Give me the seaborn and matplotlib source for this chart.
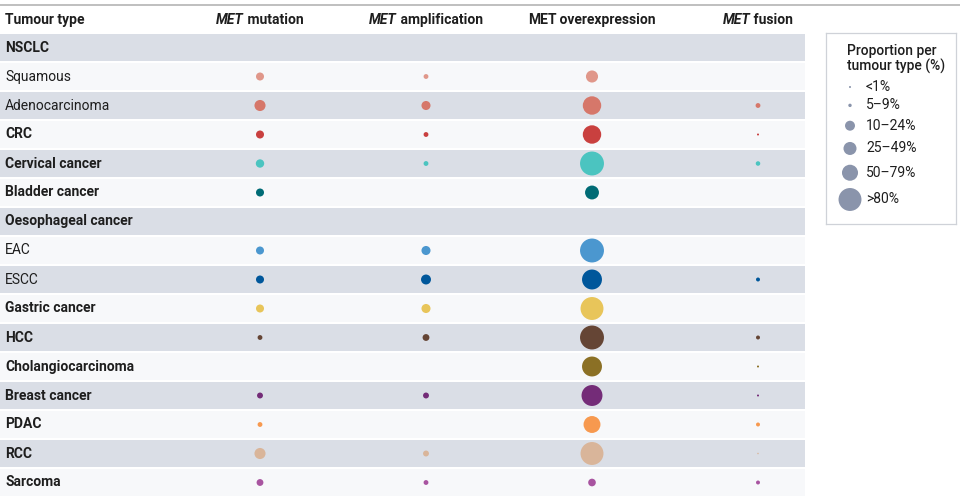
import numpy as np
import pandas as pd
import matplotlib
matplotlib.use("Agg")
import matplotlib.pyplot as plt
from matplotlib.lines import Line2D
from matplotlib.transforms import blended_transform_factory
import seaborn as sns

# ---------------- data ----------------
tumour_types = ["NSCLC", "Squamous", "Adenocarcinoma", "CRC", "Cervical cancer",
                "Bladder cancer", "Oesophageal cancer", "EAC", "ESCC", "Gastric cancer",
                "HCC", "Cholangiocarcinoma", "Breast cancer", "PDAC", "RCC", "Sarcoma"]
is_group = [True, False, False, True, True, True, True, False, False, True,
            True, True, True, True, True, True]
colours = ["#d6776a", "#e0978a", "#d6776a", "#c9403f", "#4bc4c0", "#006b75",
           "#4b97cf", "#4b97cf", "#00579b", "#e8c55a", "#654535", "#8b7025",
           "#742c78", "#f7994f", "#d9b59a", "#a854a0"]
columns = ["mutation", "amplification", "overexpression", "fusion"]
header_prefix = ["MET", "MET", "MET", "MET"]
prefix_italic = [True, True, False, True]

# proportion per tumour type (%), None = not reported
mutation = [None, 11, 21, 11, 12, 11, None, 11, 11, 11, 4, None, 6, 4, 21, 8]
amplification = [None, 4, 14, 4, 4, None, None, 14, 17, 14, 8, None, 6, None, 6, 4]
overexpression = [None, 25, 58, 58, 98, 33, None, 98, 68, 90, 98, 68, 75, 49, 90, 10]
fusion = [None, None, 4, 0.7, 3.5, None, None, None, 2.7, None, 2.7, 0.7, 0.7, 2.7, 0.4, 2.7]

legend_labels = ["<1%", "5–9%", "10–24%", "25–49%", "50–79%", ">80%"]
legend_values = [0.7, 2, 17, 29, 44, 90]

# ---------------- build table ----------------
series = [mutation, amplification, overexpression, fusion]
records = []
for j, vals in enumerate(series):
    for i, v in enumerate(vals):
        if v is not None:
            records.append({"x": j, "y": i, "pct": v, "tumour": tumour_types[i]})
df = pd.DataFrame(records)

sns.set_theme(style="white")
plt.rcParams["font.family"] = ["Roboto", "DejaVu Sans"]

W, H = 960, 500
fig = plt.figure(figsize=(W / 100, H / 100), dpi=100)
fig.patch.set_facecolor("white")

n = len(tumour_types)
top_px, bot_px, right_px = 33, 497, 805
ax = fig.add_axes([0, 1 - bot_px / H, right_px / W, (bot_px - top_px) / H])
col_px0, col_step = 260, 166
xlim = (-col_px0 / col_step, (right_px - col_px0) / col_step)
ylim = (n - 0.5, -0.5)

dark, light = "#dadee6", "#f7f8fa"
for i in range(n):
    ax.axhspan(i - 0.48, i + 0.48, color=dark if i % 2 == 0 else light, lw=0, zorder=0)

SMAX = 303  # area (pt^2) at 100 %
sns.scatterplot(data=df, x="x", y="y", hue="tumour",
                palette=dict(zip(tumour_types, colours)),
                size="pct", sizes=(0, SMAX), size_norm=(0, 100),
                legend=False, linewidth=0, ax=ax, zorder=3)
ax.set_xlabel("")
ax.set_ylabel("")
ax.set_xlim(*xlim)
ax.set_ylim(*ylim)
ax.axis("off")

txt_col = "#1e1e1e"
fs = 10
tr = blended_transform_factory(ax.transAxes, ax.transData)
for i, name in enumerate(tumour_types):
    ax.text(5 / right_px, i, name, transform=tr, va="center", ha="left",
            fontsize=fs, fontweight="bold" if is_group[i] else "normal", color=txt_col)

# header
head_y = 1 - 20 / H
fig.text(5 / W, head_y, "Tumour type", fontsize=fs, fontweight="bold",
         va="center", ha="left", color=txt_col)
fig.canvas.draw()
renderer = fig.canvas.get_renderer()
for j, col in enumerate(columns):
    xc = ax.transData.transform((j, 0))[0]
    t1 = fig.text(0, head_y, header_prefix[j], fontsize=fs, fontweight="bold",
                  fontstyle="italic" if prefix_italic[j] else "normal",
                  va="center", ha="left", color=txt_col)
    t2 = fig.text(0, head_y, " " + col, fontsize=fs, fontweight="bold",
                  va="center", ha="left", color=txt_col)
    w1 = t1.get_window_extent(renderer).width
    w2 = t2.get_window_extent(renderer).width
    left = xc - (w1 + w2) / 2
    t1.set_x(left / W)
    t2.set_x((left + w1) / W)

fig.add_artist(Line2D([0, 1], [1 - 5 / H, 1 - 5 / H], transform=fig.transFigure,
                      color="#b4b4b4", lw=1.2))

# legend box
lx0, ly0, lw_, lh_ = 826, 33, 130, 191
lax = fig.add_axes([lx0 / W, 1 - (ly0 + lh_) / H, lw_ / W, lh_ / H])
lax.set_facecolor("white")
lax.text(21, 11, "Proportion per\ntumour type (%)", fontsize=10, va="top", ha="left",
         color=txt_col, fontweight="medium", linespacing=1.1)
diam = [2.42 * np.sqrt(v) for v in legend_values]
ys = [54]
for k in range(1, len(diam)):
    ys.append(ys[-1] + 17 + (diam[k - 1] + diam[k]) / 4)
leg_df = pd.DataFrame({"x": [24] * len(legend_values), "y": ys, "pct": legend_values})
sns.scatterplot(data=leg_df, x="x", y="y", size="pct", sizes=(0, SMAX),
                size_norm=(0, 100), color="#8a94ab", linewidth=0, legend=False,
                ax=lax, zorder=3)
lax.set_xlim(0, lw_)
lax.set_ylim(lh_, 0)
lax.set_xlabel("")
lax.set_ylabel("")
lax.set_xticks([])
lax.set_yticks([])
for s in lax.spines.values():
    s.set_visible(True)
    s.set_color("#cfd2d8")
    s.set_linewidth(0.9)
for lab, y in zip(legend_labels, ys):
    lax.text(40, y, lab, fontsize=10, va="center", ha="left", color=txt_col)

fig.savefig("out.png", dpi=100)
